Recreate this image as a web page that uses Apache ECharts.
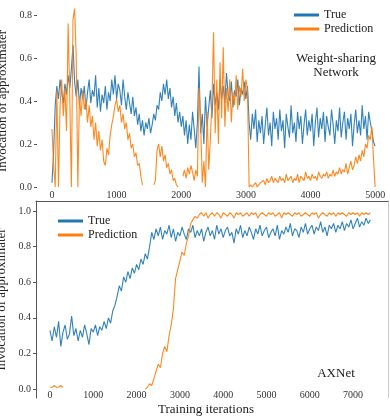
<!DOCTYPE html>
<html>
<head>
<meta charset="utf-8">
<script src="https://cdn.jsdelivr.net/npm/echarts@6/dist/echarts.min.js"></script>
<style>
  html, body { margin: 0; padding: 0; background: #fff; }
  #chart { width: 390px; height: 418px; }
</style>
</head>
<body>
<div id="chart"></div>
<script>
// top panel: weight-sharing network, one sample every 25 iterations
const topStep = 25;
const topTrue = [
  0.02, 0.16, 0.38, 0.47, 0.41, 0.5, 0.44, 0.39, 0.48, 0.43,
  0.52, 0.46, 0.55, 0.66, 0.49, 0.42, 0.5, 0.38, 0.46, 0.41,
  0.47, 0.36, 0.44, 0.5, 0.39, 0.45, 0.42, 0.52, 0.37, 0.46,
  0.35, 0.43, 0.39, 0.47, 0.36, 0.44, 0.4, 0.5, 0.43, 0.52,
  0.41, 0.48, 0.45, 0.38, 0.5, 0.42, 0.36, 0.44, 0.39, 0.34,
  0.42, 0.33, 0.37, 0.29, 0.34, 0.26, 0.31, 0.24, 0.3, 0.27,
  0.32, 0.25, 0.29, 0.34, 0.31, 0.38, 0.36, 0.44, 0.4, 0.48,
  0.43, 0.5, 0.41, 0.46, 0.37, 0.42, 0.33, 0.39, 0.3, 0.35,
  0.28, 0.33, 0.24, 0.31, 0.2, 0.29, 0.22, 0.35, 0.27, 0.18,
  0.3, 0.56, 0.25, 0.34, 0.2, 0.42, 0.28, 0.37, 0.45, 0.32,
  0.48, 0.38, 0.44, 0.36, 0.5, 0.41, 0.47, 0.39, 0.53, 0.43,
  0.4, 0.49, 0.37, 0.45, 0.42, 0.5, 0.38, 0.46, 0.43, 0.49,
  0.41, 0.47, 0.3, 0.22, 0.34, 0.27, 0.36, 0.21, 0.31, 0.25,
  0.33, 0.2, 0.29, 0.37, 0.24, 0.3, 0.19, 0.35, 0.27, 0.32,
  0.22, 0.36, 0.26, 0.31, 0.18, 0.34, 0.28, 0.23, 0.38, 0.25,
  0.3, 0.21, 0.35, 0.27, 0.33, 0.2, 0.29, 0.36, 0.24, 0.31,
  0.26, 0.34, 0.19, 0.3, 0.37, 0.23, 0.32, 0.27, 0.35, 0.21,
  0.33, 0.28, 0.24, 0.36, 0.29, 0.2, 0.31, 0.26, 0.37, 0.23,
  0.3, 0.35, 0.22, 0.32, 0.27, 0.34, 0.19, 0.29, 0.36, 0.25,
  0.31, 0.24, 0.38, 0.27, 0.33, 0.22, 0.35, 0.3, 0.26, 0.21,
  0.19
];
const topPred = [
  0.27, 0.1, 0.0, 0.45, 0.0, 0.38, 0.5, 0.33, 0.46, 0.26,
  0.76, 0.42, 0.0, 0.78, 0.83, 0.6, 0.0, 0.42, 0.33, 0.45,
  0.36, 0.41, 0.3, 0.38, 0.28, 0.33, 0.22, 0.3, 0.19, 0.26,
  0.17, 0.22, 0.12, 0.1, 0.18, 0.15, 0.24, 0.29, 0.33, 0.38,
  0.41, 0.35, 0.38, 0.3, 0.34, 0.27, 0.3, 0.22, 0.25, 0.18,
  0.2, 0.14, 0.16, 0.1, 0.11, 0.05, 0.01, null, null, null,
  null, null, null, 0.01, 0.03, 0.17, 0.2, 0.14, 0.19, 0.12,
  0.15, 0.09, 0.11, 0.06, 0.08, 0.03, 0.04, 0.01, 0.0, null,
  null, 0.05, 0.08, 0.04, 0.09, 0.06, 0.1, 0.07, 0.03, 0.08,
  0.05, 0.46, 0.3, 0.02, 0.12, 0.0, 0.35, 0.08, 0.22, 0.4,
  0.72, 0.25, 0.5, 0.2, 0.58, 0.32, 0.65, 0.28, 0.46, 0.35,
  0.5, 0.3, 0.44, 0.38, 0.52, 0.36, 0.47, 0.42, 0.55, 0.4,
  0.5, 0.45, 0.0, 0.01, 0.0, 0.01, 0.02, 0.0, 0.01, 0.02,
  0.02, 0.03, 0.01, 0.04, 0.02, 0.03, 0.05, 0.02, 0.04, 0.03,
  0.02, 0.05, 0.03, 0.04, 0.02, 0.06, 0.03, 0.04, 0.05, 0.02,
  0.04, 0.03, 0.06, 0.02, 0.05, 0.04, 0.03, 0.07, 0.04, 0.05,
  0.03, 0.06, 0.04, 0.05, 0.03, 0.07, 0.05, 0.04, 0.06, 0.05,
  0.07, 0.04, 0.06, 0.05, 0.08, 0.05, 0.07, 0.06, 0.09, 0.06,
  0.08, 0.07, 0.11, 0.06, 0.09, 0.12, 0.08, 0.1, 0.14, 0.11,
  0.15, 0.12, 0.17, 0.14, 0.2, 0.18, 0.24, 0.22, 0.28, 0.13,
  0.0
];

// bottom panel: AXNet, one sample every 50 iterations
const botStep = 50;
const botTrue = [
  0.33, 0.27, 0.35, 0.29, 0.38, 0.24, 0.32, 0.36, 0.28, 0.31,
  0.41, 0.3, 0.34, 0.27, 0.33, 0.29, 0.36, 0.31, 0.25, 0.34,
  0.32, 0.36, 0.3, 0.35, 0.33, 0.38, 0.34, 0.4, 0.37, 0.44,
  0.47, 0.52, 0.58, 0.55, 0.63, 0.6, 0.66, 0.62, 0.68, 0.65,
  0.7, 0.67, 0.73, 0.7, 0.76, 0.73, 0.8, 0.88, 0.84, 0.9,
  0.86, 0.91, 0.84, 0.89, 0.87, 0.92, 0.85, 0.9, 0.83, 0.88,
  0.86, 0.91, 0.87, 0.84, 0.9, 0.88, 0.92, 0.85, 0.89, 0.86,
  0.9, 0.83, 0.88, 0.91, 0.86, 0.89, 0.84, 0.92, 0.87, 0.9,
  0.85, 0.89, 0.91, 0.86, 0.88, 0.82, 0.9, 0.87, 0.92, 0.85,
  0.89, 0.86, 0.91, 0.88, 0.84, 0.9, 0.87, 0.92, 0.86, 0.89,
  0.91, 0.85, 0.88, 0.9, 0.86, 0.92, 0.84, 0.89, 0.87, 0.91,
  0.88, 0.93, 0.86, 0.9, 0.89, 0.85, 0.91, 0.88, 0.93, 0.87,
  0.9, 0.92, 0.87, 0.91, 0.89, 0.94, 0.88, 0.91, 0.86, 0.92,
  0.9, 0.93, 0.88, 0.92, 0.9, 0.94, 0.89, 0.93, 0.91, 0.95,
  0.9, 0.93, 0.96, 0.91, 0.94, 0.92, 0.96, 0.93, 0.95
];
const botPred = [
  0.01, 0.01, 0.02, 0.01, 0.01, 0.02, 0.01, null, null, null,
  null, null, null, null, null, null, null, null, null, null,
  null, null, null, null, null, null, null, null, null, null,
  null, null, null, null, null, null, null, null, null, null,
  null, null, null, null, 0.0, 0.01, 0.03, 0.02, 0.06, 0.1,
  0.14, 0.12, 0.2, 0.24, 0.21, 0.3, 0.36, 0.45, 0.62, 0.67,
  0.72, 0.77, 0.75, 0.82, 0.86, 0.93, 0.95, 0.97, 0.96, 0.98,
  0.99, 0.97, 0.99, 0.96, 0.98, 0.99, 0.97, 0.99, 0.98, 0.96,
  0.99, 0.98, 0.97, 0.99, 0.98, 0.96, 0.99, 0.98, 0.99, 0.97,
  0.98, 0.99, 0.97, 0.99, 0.98, 0.99, 0.96, 0.98, 0.99, 0.98,
  0.97, 0.99, 0.98, 0.99, 0.97, 0.98, 0.99, 0.96, 0.99, 0.98,
  0.99, 0.98, 0.97, 0.99, 0.98, 0.99, 0.97, 0.98, 0.99, 0.98,
  0.97, 0.99, 0.98, 0.99, 0.96, 0.98, 0.99, 0.98, 0.97, 0.99,
  0.98, 0.99, 0.97, 0.99, 0.98, 0.99, 0.98, 0.97, 0.99, 0.98,
  0.99, 0.98, 0.99, 0.97, 0.99, 0.98, 0.99, 0.98, 0.99
];

const topTicksX = [0, 1000, 2000, 3000, 4000, 5000];
const botTicksX = [0, 1000, 2000, 3000, 4000, 5000, 6000, 7000];
const botTicksY = [0, 0.2, 0.4, 0.6, 0.8, 1.0];

const BLUE = "#1f77b4";
const ORANGE = "#ff7f0e";
const FONT = "Liberation Serif";

const toPairs = (vals, step) => vals.map((v, i) => [i * step, v === null ? "-" : v]);

const lineSeries = (name, color, data, idx) => ({
  name,
  type: "line",
  xAxisIndex: idx,
  yAxisIndex: idx,
  data,
  showSymbol: false,
  symbol: "none",
  clip: false,
  connectNulls: false,
  animation: false,
  lineStyle: { color, width: 1.1, opacity: 0.92 },
  itemStyle: { color },
});

const tickLabel = { fontFamily: FONT, fontSize: 10, color: "#333" };
const axisName = { fontFamily: FONT, fontSize: 13, color: "#222" };
const plainInt = (v) => String(Math.round(v));
const oneDec = (v) => v.toFixed(1);

const chart = echarts.init(document.getElementById("chart"), null, { renderer: "canvas" });

chart.setOption({
  animation: false,
  backgroundColor: "#fff",
  title: [
    {
      text: "Weight-sharing\nNetwork",
      left: 331,
      top: 47,
      textAlign: "center",
      textStyle: { fontFamily: FONT, fontSize: 13, fontWeight: "normal", color: "#222", lineHeight: 14 },
    },
    {
      text: "AXNet",
      left: 331,
      top: 362,
      textAlign: "center",
      textStyle: { fontFamily: FONT, fontSize: 13, fontWeight: "normal", color: "#222" },
    },
  ],
  legend: [
    {
      data: ["True", "Prediction"],
      orient: "vertical",
      left: 289,
      top: 4,
      icon: "rect",
      itemWidth: 25,
      itemHeight: 3,
      itemGap: 2,
      textStyle: { fontFamily: FONT, fontSize: 12, color: "#222" },
      selectedMode: false,
    },
    {
      data: ["True", "Prediction"],
      orient: "vertical",
      left: 53,
      top: 210,
      icon: "rect",
      itemWidth: 25,
      itemHeight: 3,
      itemGap: 2,
      textStyle: { fontFamily: FONT, fontSize: 12, color: "#222" },
      selectedMode: false,
    },
  ],
  grid: [
    { left: 37, right: 0, top: 15, height: 172, containLabel: false, outerBoundsMode: "none" },
    { left: 36, right: 2, top: 201, bottom: 20, containLabel: false, outerBoundsMode: "none" },
  ],
  xAxis: [
    {
      gridIndex: 0,
      type: "value",
      min: -232,
      max: 5230,
      axisLine: { show: false, onZero: false },
      axisTick: { show: false },
      splitLine: { show: false },
      axisLabel: { ...tickLabel, margin: 3, customValues: topTicksX, formatter: plainInt },
    },
    {
      gridIndex: 1,
      type: "value",
      min: -323,
      max: 7806,
      axisLine: { show: false, onZero: false },
      axisTick: { show: false },
      splitLine: { show: false },
      axisLabel: { ...tickLabel, margin: -8, customValues: botTicksX, formatter: plainInt },
      name: "Training iterations",
      nameLocation: "middle",
      nameGap: 5,
      nameTextStyle: { ...axisName, verticalAlign: "top", padding: [0, 12, 0, 0] },
    },
    {
      gridIndex: 1,
      type: "value",
      position: "top",
      min: -323,
      max: 7806,
      axisLine: { show: true, onZero: false, lineStyle: { color: "#555", width: 1 } },
      axisTick: { show: false },
      axisLabel: { show: false },
      splitLine: { show: false },
    },
  ],
  yAxis: [
    {
      gridIndex: 0,
      type: "value",
      min: 0,
      max: 0.8,
      interval: 0.2,
      axisLine: { show: false, onZero: false },
      axisTick: { show: true, length: 3, lineStyle: { color: "#555" } },
      splitLine: { show: false },
      axisLabel: { ...tickLabel, margin: 5, formatter: oneDec },
      name: "Invocation of approximater",
      nameLocation: "middle",
      nameGap: 20,
      nameTextStyle: axisName,
    },
    {
      gridIndex: 1,
      type: "value",
      min: -0.05,
      max: 1.056,
      axisLine: { show: true, onZero: false, lineStyle: { color: "#555", width: 1 } },
      axisTick: { show: true, length: 3, customValues: botTicksY, lineStyle: { color: "#555" } },
      splitLine: { show: false },
      axisLabel: { ...tickLabel, margin: 5, customValues: botTicksY, formatter: oneDec },
      name: "Invocation of approximater",
      nameLocation: "middle",
      nameGap: 20,
      nameTextStyle: axisName,
    },
    {
      gridIndex: 1,
      type: "value",
      position: "right",
      min: -0.05,
      max: 1.056,
      axisLine: { show: true, onZero: false, lineStyle: { color: "#ccc", width: 1 } },
      axisTick: { show: false },
      axisLabel: { show: false },
      splitLine: { show: false },
    },
  ],
  series: [
    lineSeries("True", BLUE, toPairs(topTrue, topStep), 0),
    lineSeries("Prediction", ORANGE, toPairs(topPred, topStep), 0),
    lineSeries("True", BLUE, toPairs(botTrue, botStep), 1),
    lineSeries("Prediction", ORANGE, toPairs(botPred, botStep), 1),
  ],
});
</script>
</body>
</html>
